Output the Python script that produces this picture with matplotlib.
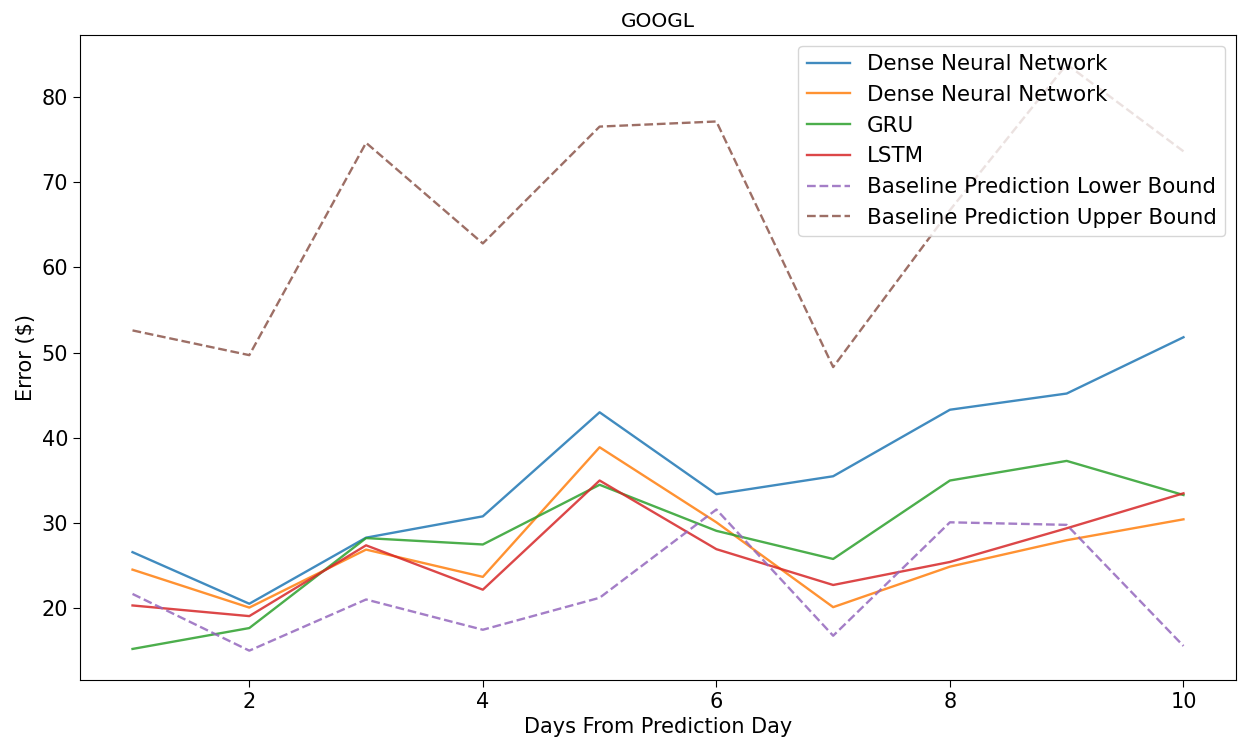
import matplotlib
matplotlib.use('Agg')
import matplotlib.pyplot as plt

days = [1, 2, 3, 4, 5, 6, 7, 8, 9, 10]

dense_1 = [26.6, 20.55, 28.3, 30.8, 43.0, 33.4, 35.5, 43.3, 45.2, 51.8]
dense_2 = [24.55, 20.1, 26.9, 23.7, 38.9, 30.1, 20.15, 24.9, 28.0, 30.45]
gru = [15.25, 17.7, 28.25, 27.5, 34.5, 29.1, 25.8, 35.0, 37.3, 33.3]
lstm = [20.35, 19.1, 27.4, 22.2, 35.0, 26.95, 22.75, 25.45, 29.4, 33.5]
lower_bound = [21.7, 15.05, 21.05, 17.5, 21.25, 31.6, 16.8, 30.1, 29.8, 15.6]
upper_bound = [52.6, 49.7, 74.6, 62.8, 76.5, 77.1, 48.3, 66.7, 83.8, 73.6]

fig = plt.figure(figsize=(12.38, 7.42), dpi=100)
ax = fig.add_axes([0.0646, 0.0836, 0.9338, 0.8692])

lw = 1.7
a = 0.85
ax.plot(days, dense_1, color='tab:blue', lw=lw, alpha=a, label='Dense Neural Network')
ax.plot(days, dense_2, color='tab:orange', lw=lw, alpha=a, label='Dense Neural Network')
ax.plot(days, gru, color='tab:green', lw=lw, alpha=a, label='GRU')
ax.plot(days, lstm, color='tab:red', lw=lw, alpha=a, label='LSTM')
ax.plot(days, lower_bound, color='tab:purple', lw=lw, alpha=a, ls='--',
        label='Baseline Prediction Lower Bound')
ax.plot(days, upper_bound, color='tab:brown', lw=lw, alpha=a, ls='--',
        label='Baseline Prediction Upper Bound')

ax.set_title('GOOGL', fontsize=14.5)
ax.set_xlabel('Days From Prediction Day', fontsize=15)
ax.set_ylabel('Error ($)', fontsize=15)
ax.tick_params(labelsize=15, length=5)
ax.legend(loc='upper right', fontsize=15.4)

fig.savefig('out.png', dpi=100)
